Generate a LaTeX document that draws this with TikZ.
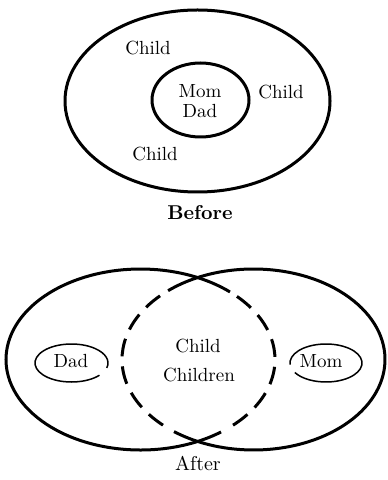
\documentclass[tikz,border=0pt]{standalone}
\begin{document}
\begin{tikzpicture}[x=0.5pt,y=-0.5pt,
  thick line/.style={line width=1.5pt},
  thin line/.style={line width=0.75pt},
  dash line/.style={line width=1.5pt, dash pattern=on 9pt off 5pt},
  lbl/.style={font=\fontsize{9.5}{11}\selectfont, inner sep=0pt},
  captext/.style={font=\fontsize{10}{12}\selectfont, inner sep=0pt}]
\useasboundingbox (0,0) rectangle (387,480);
% Before
\draw[thick line] (197.5,101) ellipse [x radius=132.5, y radius=91];
\draw[thick line] (200.5,100) ellipse [x radius=48.5, y radius=37];
\node[lbl] (c1) at (148,48) {Child};
\node[lbl] (mom1) at (200,91) {Mom};
\node[lbl] (dad1) at (200,111) {Dad};
\node[lbl] (c2) at (281,92) {Child};
\node[lbl] (c3) at (155,154) {Child};
\node[captext] (before) at (200,213) {\bfseries Before};
% After: left ellipse (center 140.5,359.5)
\draw[thick line] ([shift={(53.2:134.5 and 90.5)}]140.5,359.5) arc[start angle=53.2, end angle=311.7, x radius=134.5, y radius=90.5];
\draw[dash line] ([shift={(-44.2:134.5 and 90.5)}]140.5,359.5) arc[start angle=-44.2, end angle=47.1, x radius=134.5, y radius=90.5];
% right ellipse (center 253.5,359.5)
\draw[thick line] ([shift={(-130.5:131.5 and 90.5)}]253.5,359.5) arc[start angle=-130.5, end angle=127.2, x radius=131.5, y radius=90.5];
\draw[dash line] ([shift={(224.7:131.5 and 90.5)}]253.5,359.5) arc[start angle=224.7, end angle=133.5, x radius=131.5, y radius=90.5];
% small ellipses
\draw[thin line] ([shift={(40:36.5 and 19)}]71.5,363) arc[start angle=40, end angle=375, x radius=36.5, y radius=19];
\draw[thin line] ([shift={(175:36 and 19)}]326,363) arc[start angle=175, end angle=510, x radius=36, y radius=19];
\node[lbl] (dad2) at (71,361) {Dad};
\node[lbl] (mom2) at (321,361) {Mom};
\node[lbl] (c4) at (198,346) {Child};
\node[lbl] (ch) at (199,375) {Children};
\node[captext] (after) at (198,463) {After};
\end{tikzpicture}
\end{document}
